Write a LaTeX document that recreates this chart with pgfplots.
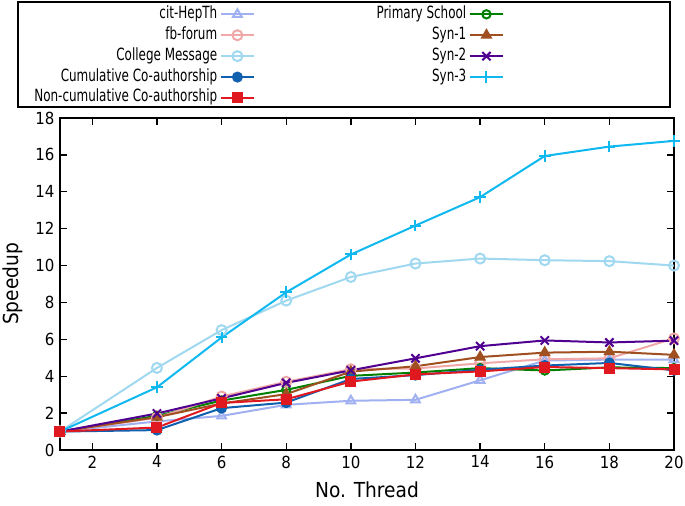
\documentclass[border=0pt]{standalone}
\usepackage{fontspec}
\setmainfont{DejaVu Sans Condensed}
\newfontfamily\legfont{DejaVu Sans Condensed}[FakeStretch=0.79]
\usepackage{pgfplots}
\pgfplotsset{compat=1.18}

\definecolor{citc}{RGB}{160,176,240}
\definecolor{fbc}{RGB}{240,168,168}
\definecolor{colc}{RGB}{160,216,240}
\definecolor{cumc}{RGB}{16,96,176}
\definecolor{ncc}{RGB}{224,24,32}
\definecolor{prc}{RGB}{0,128,0}
\definecolor{s1c}{RGB}{160,80,32}
\definecolor{s2c}{RGB}{80,0,144}
\definecolor{s3c}{RGB}{16,184,240}

\begin{document}
\begin{tikzpicture}
\fontsize{9.6}{11}\selectfont
\begin{axis}[
  scale only axis,
  width=368.4pt, height=199.2pt,
  xmin=1, xmax=20, ymin=0, ymax=18,
  xtick={2,4,...,20}, ytick={0,2,...,18},
  tick align=inside,
  major tick length=4pt,
  axis line style={line width=1pt},
  tick style={line width=0.8pt, black},
  /pgf/number format/assume math mode=true,
  ticklabel style={font=\fontsize{10}{11}\selectfont},
  xlabel={No. Thread}, ylabel={Speedup},
  label style={font=\fontsize{12.4}{14}\selectfont},
  xlabel style={yshift=-1.6pt},
  ylabel style={yshift=1pt},
  every axis plot/.append style={line width=1.2pt, mark size=3pt},
  legend columns=2,
  legend plot pos=right,
  legend cell align=right,
  legend image code/.code={\draw[mark repeat=2,mark phase=2] plot coordinates {(0pt,0pt) (10pt,0pt) (20pt,0pt)};},
  legend style={draw=none, fill=none, at={(-0.0545,1.354)}, anchor=north west,
    font=\legfont\fontsize{10.1}{11}\selectfont,
    nodes={inner sep=1.5pt, text height=7pt, text depth=2.2pt},
    row sep=0.35pt,
    /tikz/every even column/.append style={column sep=71.4pt}},
]
\addplot[color=citc, mark=triangle, mark options={solid}] coordinates {
(1,1) (4,1.55) (6,1.85) (8,2.45) (10,2.67) (12,2.72) (14,3.78) (16,4.85) (18,4.9) (20,4.9)};
\addlegendentry{cit-HepTh}
\addplot[color=prc, mark=o, mark size=2.5pt] coordinates {
(1,1) (4,1.85) (6,2.68) (8,3.26) (10,4.02) (12,4.2) (14,4.44) (16,4.31) (18,4.48) (20,4.44)};
\addlegendentry{Primary School}
\addplot[color=fbc, mark=o] coordinates {
(1,1) (4,1.75) (6,2.9) (8,3.7) (10,4.38) (12,4.42) (14,4.7) (16,4.92) (18,4.97) (20,6.05)};
\addlegendentry{fb-forum}
\addplot[color=s1c, mark=triangle*] coordinates {
(1,1) (4,1.78) (6,2.52) (8,3.03) (10,4.25) (12,4.54) (14,5.04) (16,5.28) (18,5.33) (20,5.16)};
\addlegendentry{Syn-1}
\addplot[color=colc, mark=o] coordinates {
(1,1) (4,4.45) (6,6.5) (8,8.1) (10,9.38) (12,10.11) (14,10.38) (16,10.29) (18,10.24) (20,10.0)};
\addlegendentry{College Message}
\addplot[color=s2c, mark=x, mark size=3.5pt] coordinates {
(1,1) (4,1.98) (6,2.8) (8,3.64) (10,4.32) (12,4.97) (14,5.63) (16,5.94) (18,5.83) (20,5.93)};
\addlegendentry{Syn-2}
\addplot[color=cumc, mark=*, mark size=2.7pt] coordinates {
(1,1) (4,1.08) (6,2.27) (8,2.57) (10,3.85) (12,4.06) (14,4.35) (16,4.58) (18,4.72) (20,4.32)};
\addlegendentry{Cumulative Co-authorship}
\addplot[color=s3c, mark=+, mark size=3.5pt] coordinates {
(1,1) (4,3.4) (6,6.1) (8,8.55) (10,10.6) (12,12.17) (14,13.71) (16,15.94) (18,16.45) (20,16.76)};
\addlegendentry{Syn-3}
\addplot[color=ncc, mark=square*, mark size=2.7pt] coordinates {
(1,1) (4,1.22) (6,2.55) (8,2.75) (10,3.71) (12,4.1) (14,4.26) (16,4.5) (18,4.44) (20,4.37)};
\addlegendentry{Non-cumulative Co-authorship}
\end{axis}
\draw[line width=1.2pt] (-25.2pt,205.8pt) rectangle (366pt,268.8pt);
\pgfresetboundingbox
\path (-36pt,-33pt) rectangle (375pt,270pt);
\end{tikzpicture}
\end{document}
